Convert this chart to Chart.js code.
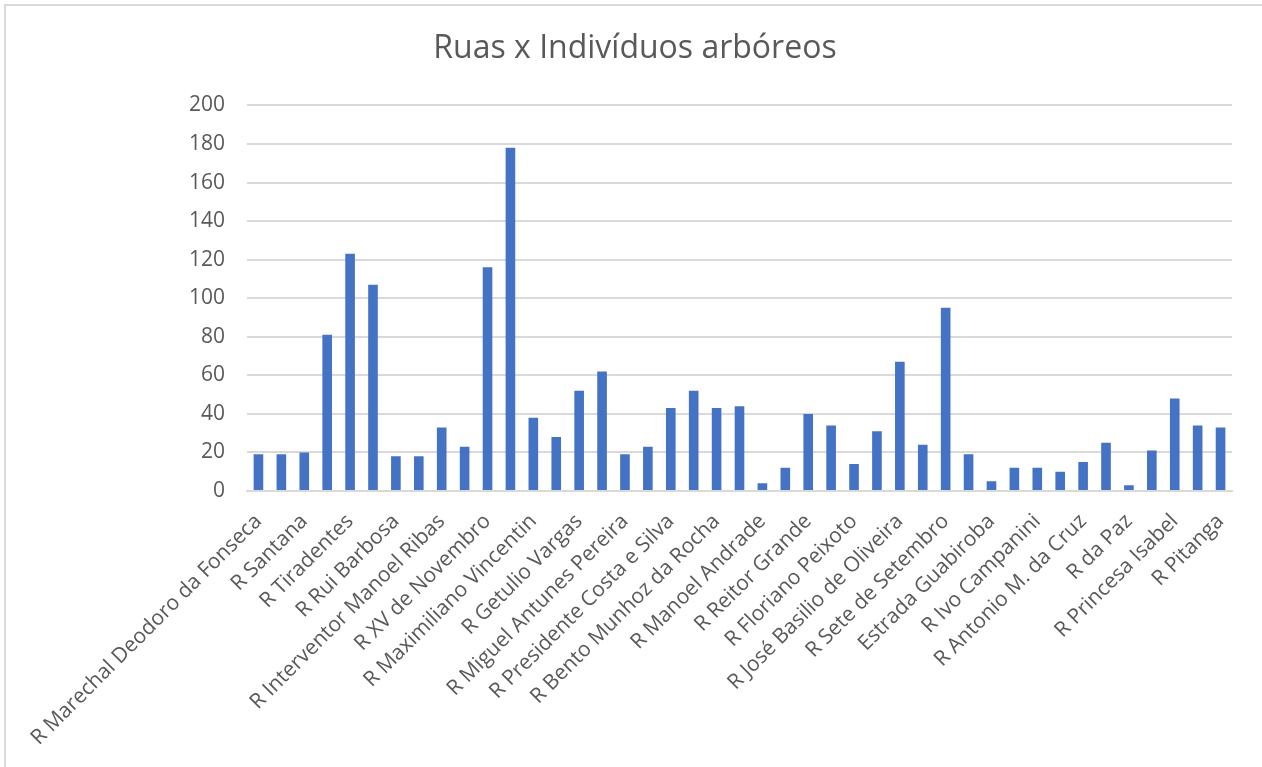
<!DOCTYPE html>
<html>
<head>
<meta charset="utf-8">
<script src="https://cdn.jsdelivr.net/npm/chart.js@4"></script>
<style>
  body { margin: 0; background: #fff; }
  canvas { display: block; }
</style>
</head>
<body>
<canvas id="chart" width="1262" height="767"></canvas>
<script>
// only every other street name is printed on the axis
const streets = [
  'R Marechal Deodoro da Fonseca', '', 'R Santana', '', 'R Tiradentes', '',
  'R Rui Barbosa', '', 'R Interventor Manoel Ribas', '', 'R XV de Novembro', '',
  'R Maximiliano Vincentin', '', 'R Getulio Vargas', '', 'R Miguel Antunes Pereira', '',
  'R Presidente Costa e Silva', '', 'R Bento Munhoz da Rocha', '', 'R Manoel Andrade', '',
  'R Reitor Grande', '', 'R Floriano Peixoto', '', 'R José Basilio de Oliveira', '',
  'R Sete de Setembro', '', 'Estrada Guabiroba', '', 'R Ivo Campanini', '',
  'R Antonio M. da Cruz', '', 'R da Paz', '', 'R Princesa Isabel', '', 'R Pitanga'
]
const trees = [
  19, 19, 20, 81, 123, 107, 18, 18, 33, 23, 116, 178, 38, 28, 52, 62, 19, 23, 43, 52, 43, 44,
  4, 12, 40, 34, 14, 31, 67, 24, 95, 19, 5, 12, 12, 10, 15, 25, 3, 21, 48, 34, 33
]
const yTicks = [0, 20, 40, 60, 80, 100, 120, 140, 160, 180, 200]

const textColor = '#595959'
const gridColor = '#d9d9d9'

const frame = {
  id: 'frame',
  beforeDraw(chart) {
    const ctx = chart.ctx
    ctx.save()
    ctx.fillStyle = '#fff'
    ctx.fillRect(0, 0, chart.width, chart.height)
    ctx.strokeStyle = gridColor
    ctx.lineWidth = 2
    ctx.beginPath()
    ctx.moveTo(5, chart.height)
    ctx.lineTo(5, 5)
    ctx.lineTo(chart.width, 5)
    ctx.stroke()
    ctx.restore()
  }
}

new Chart(document.getElementById('chart'), {
  type: 'bar',
  data: {
    labels: streets,
    datasets: [{
      label: 'Indivíduos arbóreos',
      data: trees,
      backgroundColor: '#4472C4',
      barPercentage: 0.42,
      categoryPercentage: 1
    }]
  },
  options: {
    responsive: false,
    animation: false,
    layout: { padding: { left: 38, right: 30, top: 0, bottom: 0 } },
    plugins: {
      legend: { display: false },
      tooltip: { enabled: false },
      title: {
        display: true,
        text: 'Ruas x Indivíduos arbóreos',
        color: textColor,
        font: { family: 'Open Sans', size: 32, weight: 'normal' },
        padding: { top: 30, bottom: 37 }
      }
    },
    scales: {
      x: {
        grid: { display: false },
        border: { color: gridColor, width: 2 },
        ticks: {
          autoSkip: false,
          maxRotation: 45,
          minRotation: 45,
          padding: 10,
          color: textColor,
          font: { family: 'Open Sans', size: 21 }
        },
        afterFit(scale) { scale.height = 276 }
      },
      y: {
        min: 0,
        max: 200,
        afterBuildTicks(scale) { scale.ticks = yTicks.map(v => ({ value: v })) },
        grid: { color: gridColor, lineWidth: 2, drawTicks: false },
        border: { display: false },
        ticks: {
          padding: 22,
          color: textColor,
          font: { family: 'Open Sans', size: 21 }
        },
        afterFit(scale) { scale.width = 209 }
      }
    }
  },
  plugins: [frame]
})
</script>
</body>
</html>
